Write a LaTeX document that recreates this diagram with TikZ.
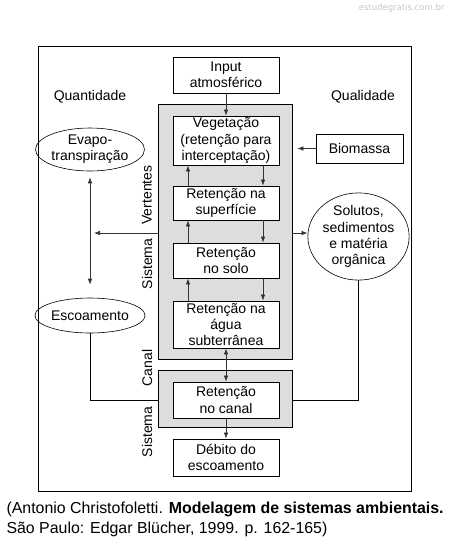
\documentclass[tikz,border=0pt]{standalone}
\usepackage{fontspec}
\setmainfont{Liberation Sans}
\newfontfamily\wmfont{DejaVu Sans}
\usetikzlibrary{arrows.meta,shapes.geometric}
\definecolor{fundo}{RGB}{221,221,221}
\definecolor{marca}{RGB}{196,198,206}
\begin{document}
\begin{tikzpicture}[x=1pt,y=-1pt,
	font=\fontsize{14}{16.2}\selectfont,
	caixa/.style={draw,line width=0.8pt,fill=white,minimum width=106,inner sep=0,align=center},
	cinza/.style={draw,line width=0.8pt,fill=fundo,minimum width=134,inner sep=0},
	elipse/.style={draw,ellipse,line width=0.6pt,inner sep=0,align=center},
	seta/.style={line width=0.7pt,black!80,-{Latex[length=6pt,width=4.5pt]}},
	seta2/.style={line width=0.7pt,black!80,{Latex[length=6pt,width=4.5pt]}-{Latex[length=6pt,width=4.5pt]}},
	linha/.style={line width=0.8pt}]
		\useasboundingbox (0,0) rectangle (449,550);
		
		\node[draw,line width=0.8pt,minimum width=373,minimum height=445,inner sep=0] (quadro) at (224.5,268.5) {};
		
		\node[cinza,minimum height=255] (vert) at (225,231.5) {};
		\node[cinza,minimum height=57] (canalbg) at (225,398.5) {};
		
		\node[caixa,minimum height=36] (input) at (226,75) {Input\\atmosférico};
		\node[caixa,minimum height=49] (veg) at (226,140.5) {Vegetação\\(retenção para\\interceptação)};
		\node[caixa,minimum height=34] (sup) at (226,203) {Retenção na\\superfície};
		\node[caixa,minimum height=35] (solo) at (226,260.5) {Retenção\\no solo};
		\node[caixa,minimum height=47] (agua) at (226,324.5) {Retenção na\\água\\subterrânea};
		\node[caixa,minimum height=36] (canal) at (226,400) {Retenção\\no canal};
		\node[caixa,minimum height=37] (debito) at (226,457.5) {Débito do\\escoamento};
		
		\node[caixa,minimum width=87,minimum height=29] (bio) at (359.5,148.5) {Biomassa};
		
		\node[elipse,minimum width=91,minimum height=43] (evapo) at (90,149.5) {Evapo-\\transpiração};
		\node[elipse,minimum width=90,minimum height=35] (escoa) at (90,315.5) {Escoamento};
		\node[elipse,minimum width=89,minimum height=69] (solutos) at (358.5,236.5) {Solutos,\\sedimentos\\e matéria\\orgânica};
		
		\node (quant) at (90,97) {Quantidade};
		\node (qual) at (363,97) {Qualidade};
		
		\node[rotate=90] (vertentes) at (147,195) {Vertentes};
		\node[rotate=90] (sist1) at (147,264) {Sistema};
		\node[rotate=90] (canallbl) at (147,368) {Canal};
		\node[rotate=90] (sist2) at (147,432) {Sistema};
		
		\coordinate (meio) at (94,233);
		
		\draw[seta] (input) -- (veg);
		\draw[seta] ([xshift=37pt]veg.south) -- ([xshift=37pt]sup.north);
		\draw[seta] ([xshift=37pt]sup.south) -- ([xshift=37pt]solo.north);
		\draw[seta] ([xshift=37pt]solo.south) -- ([xshift=37pt]agua.north);
		\draw[seta] ([xshift=-38pt]sup.north) -- ([xshift=-38pt]veg.south);
		\draw[seta] ([xshift=-38pt]solo.north) -- ([xshift=-38pt]sup.south);
		\draw[seta] ([xshift=-38pt]agua.north) -- ([xshift=-38pt]solo.south);
		\draw[seta2] (agua) -- (canal);
		\draw[seta] (canal) -- (debito);
		
		\draw[seta] (bio.west) -- ([xshift=5pt]vert.east |- bio);
		\draw[seta] (vert.east |- meio) -- (solutos.west |- meio);
		\draw[seta] (vert.west |- meio) -- (meio);
		\draw[seta2,shorten <=6pt,shorten >=13pt] (evapo.south) -- (escoa.north);
		
		\draw[linha] (escoa.south) |- (canalbg.west |- canal);
		\draw[linha] (solutos.south) |- (canalbg.east |- canal);
		
		\node[anchor=west,font=\fontsize{15.9}{19}\selectfont] (ref1) at (3,509) {(Antonio Christofoletti. \textbf{Modelagem de sistemas ambientais.}};
		\node[anchor=west,font=\fontsize{15.9}{19}\selectfont] (ref2) at (3,529) {São Paulo: Edgar Blücher, 1999. p. 162-165)};
		
		\node[anchor=east,text=marca,font=\wmfont\fontsize{8.5}{10}\selectfont] (site) at (448,8) {estudegratis.com.br};
	\end{tikzpicture}
\end{document}
